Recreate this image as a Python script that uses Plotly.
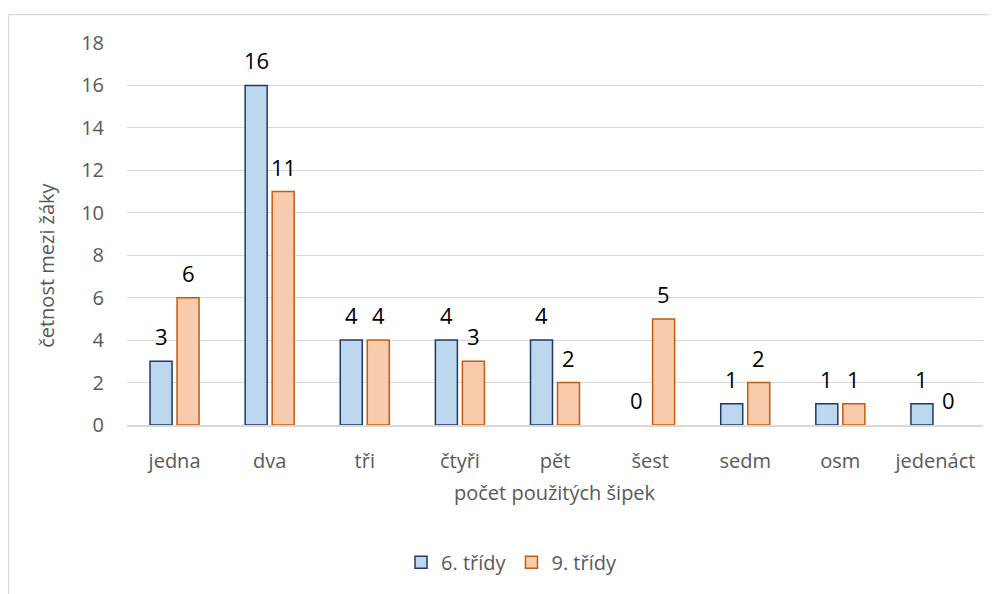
import plotly.graph_objects as go

categories = ["jedna", "dva", "tři", "čtyři", "pět", "šest", "sedm", "osm", "jedenáct"]
series_names = ["6. třídy", "9. třídy"]
values_6 = [3, 16, 4, 4, 4, 0, 1, 1, 1]
values_9 = [6, 11, 4, 3, 2, 5, 2, 1, 0]
y_ticks = [0, 2, 4, 6, 8, 10, 12, 14, 16, 18]
x_title = "počet použitých šipek"
y_title = "četnost mezi žáky"

FONT = "Open Sans"
GRAY = "#595959"
OFF = 8  # page body margin offset
W, H = 997 - OFF, 594 - OFF
L, T = 127 - OFF, 43 - OFF
R = W - (983 - OFF)
B = H - (427 - OFF)
PW = W - L - R
PH = H - T - B


def px_to_paper_x(px):
    return (px - OFF - L) / PW


def px_to_paper_y(py):
    return (H - B - (py - OFF)) / PH


fig = go.Figure()
fig.add_trace(go.Bar(
    x=categories, y=values_6, name=series_names[0],
    marker=dict(color="#BDD7EE",
                line=dict(color="#203864", width=[1.5 if v else 0 for v in values_6])),
))
fig.add_trace(go.Bar(
    x=categories, y=values_9, name=series_names[1],
    marker=dict(color="#F8CBAD",
                line=dict(color="#C55A11", width=[1.5 if v else 0 for v in values_9])),
))

annotations = []
for vals, shift in ((values_6, -13.5), (values_9, 13.5)):
    for c, v in zip(categories, vals):
        annotations.append(dict(
            x=c, y=v, xref="x", yref="y", text=str(v), showarrow=False,
            xshift=shift, yshift=25, yanchor="middle", xanchor="center",
            font=dict(family=FONT, size=22, color="#000000"),
        ))

annotations.append(dict(
    x=px_to_paper_x(47), y=px_to_paper_y(267), xref="paper", yref="paper",
    text=y_title, textangle=-90, showarrow=False, xanchor="center", yanchor="middle",
    font=dict(family=FONT, size=20, color=GRAY),
))
annotations.append(dict(
    x=px_to_paper_x(555), y=px_to_paper_y(495), xref="paper", yref="paper",
    text=x_title, showarrow=False, xanchor="center", yanchor="middle",
    font=dict(family=FONT, size=20, color=GRAY),
))

fig.update_layout(
    width=W, height=H,
    margin=dict(l=L, r=R, t=T, b=B, pad=0),
    paper_bgcolor="white", plot_bgcolor="white",
    barmode="group", bargap=0.432, bargroupgap=0.185,
    font=dict(family=FONT, size=20, color=GRAY),
    showlegend=True,
    legend=dict(
        orientation="h", x=px_to_paper_x(401), y=px_to_paper_y(565),
        xanchor="left", yanchor="middle",
        font=dict(family=FONT, size=20, color=GRAY),
        itemwidth=30, tracegroupgap=0,
    ),
    annotations=annotations,
    shapes=[dict(
        type="rect", xref="paper", yref="paper",
        x0=px_to_paper_x(8.5), x1=px_to_paper_x(1010),
        y0=px_to_paper_y(620), y1=px_to_paper_y(14.5),
        line=dict(color="#D9D9D9", width=1.3), fillcolor="rgba(0,0,0,0)",
        layer="below",
    )],
    xaxis=dict(
        showgrid=False, showline=True, linecolor="#D9D9D9", linewidth=1.5,
        ticks="", tickfont=dict(family=FONT, size=20, color=GRAY),
        ticklabelstandoff=17, zeroline=False,
    ),
    yaxis=dict(
        range=[0, 18], tickvals=y_ticks, showgrid=True, gridcolor="#D9D9D9",
        gridwidth=1.3, zeroline=False, showline=False, ticks="",
        tickfont=dict(family=FONT, size=20, color=GRAY),
        ticklabelstandoff=22,
    ),
)

fig.write_html("out.html")
